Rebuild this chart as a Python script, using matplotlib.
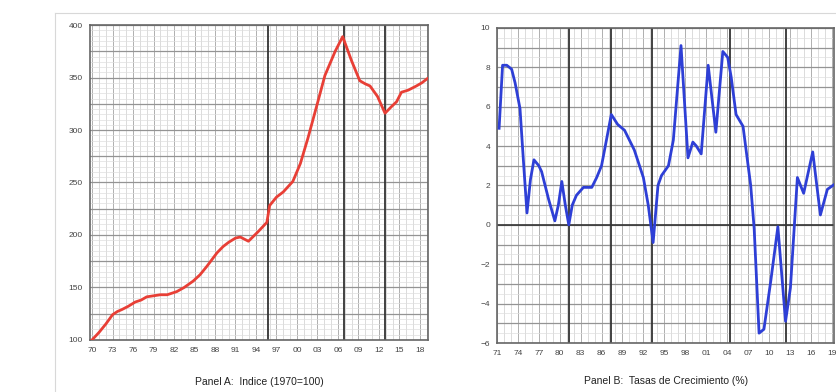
import numpy as np
import matplotlib.pyplot as plt
from matplotlib.lines import Line2D

# Panel A: indice (1970=100)
anios_a = [1970.0, 1971.0, 1972.0, 1973.0, 1973.7, 1974.4, 1975.3, 1976.3, 1977.2, 1978.0,
           1979.0, 1980.0, 1981.0, 1982.4, 1983.5, 1984.8, 1985.8, 1986.8, 1988.3, 1989.2,
           1990.0, 1991.0, 1991.7, 1992.9, 1994.3, 1995.6, 1996.0, 1997.0, 1998.0, 1999.4,
           2000.5, 2001.6, 2002.9, 2004.1, 2005.6, 2006.7, 2008.0, 2009.2, 2010.0, 2010.7,
           2011.8, 2012.9, 2013.8, 2014.6, 2015.3, 2016.3, 2017.5, 2018.3, 2019.1]
indice = [100, 107, 115, 124, 127, 129, 132, 136, 138, 141,
          142, 143, 143, 146, 150, 156, 162, 170, 183, 189,
          193, 197, 198, 194, 203, 212, 228, 236, 241, 251,
          268, 292, 323, 352, 375, 389, 366, 347, 344, 342,
          332, 316, 322, 327, 336, 338, 342, 345, 349]
cortes_a = [1995.8, 2006.9, 2012.9]

# Panel B: tasas de crecimiento (%)
anios_b = [1971.3, 1971.8, 1972.4, 1973.1, 1973.6, 1974.3, 1974.8, 1975.3, 1975.8, 1976.3,
           1977.0, 1977.4, 1978.4, 1979.3, 1979.8, 1980.3, 1980.8, 1981.3, 1981.8, 1982.4,
           1983.4, 1984.6, 1985.3, 1986.0, 1986.7, 1987.4, 1988.3, 1989.3, 1990.0, 1990.7,
           1992.0, 1992.7, 1993.4, 1994.1, 1994.6, 1995.6, 1996.3, 1997.4, 1998.4, 1999.1,
           1999.6, 2000.3, 2001.3, 2002.4, 2003.4, 2004.1, 2004.6, 2005.3, 2006.3, 2007.4,
           2007.9, 2008.6, 2009.3, 2010.3, 2011.3, 2012.4, 2013.1, 2014.1, 2015.0, 2016.3,
           2017.4, 2018.4, 2019.6]
tasa = [4.9, 8.1, 8.1, 7.9, 7.2, 5.9, 3.2, 0.6, 2.3, 3.3,
        3.0, 2.7, 1.3, 0.2, 1.0, 2.2, 1.0, 0.0, 1.0, 1.5,
        1.9, 1.9, 2.4, 3.0, 4.3, 5.6, 5.1, 4.8, 4.3, 3.8,
        2.4, 1.0, -0.9, 2.0, 2.5, 3.0, 4.3, 9.1, 3.4, 4.2,
        4.0, 3.6, 8.1, 4.7, 8.8, 8.5, 7.5, 5.6, 5.0, 2.0,
        -0.2, -5.5, -5.3, -2.8, -0.1, -4.9, -3.2, 2.4, 1.6, 3.7,
        0.5, 1.8, 2.1]
cortes_b = [1981.3, 1987.3, 1993.3, 2004.4, 2012.4]

ticks_a = list(range(1970, 2019, 3))
ticks_b = list(range(1971, 2020, 3))

plt.rcParams['font.family'] = 'Liberation Sans'
fig = plt.figure(figsize=(8.36, 3.92), dpi=100)

# marco exterior
fig.add_artist(Line2D([0.066, 1.0], [0.967, 0.967], color='#d8d8d8', lw=0.8))
fig.add_artist(Line2D([0.066, 0.066], [0.0, 0.967], color='#d8d8d8', lw=0.8))


def papel(ax, x0, x1, y0, y1, paso_y, sub_y, ticks, cortes):
    # cuadricula tipo papel milimetrado
    for x in np.arange(np.ceil(x0), x1, 1.0):
        ax.axvline(x, color='#d6d6d6', lw=0.6, zorder=1)
    for x in ticks:
        ax.axvline(x, color='#b0b0b0', lw=0.7, zorder=1)
    for y in np.arange(y0, y1 + 1e-9, sub_y):
        ax.axhline(y, color='#dedede', lw=0.5, zorder=1)
    for y in np.arange(y0, y1 + 1e-9, paso_y):
        ax.axhline(y, color='#949494', lw=0.9, zorder=1)
    for x in cortes:
        ax.axvline(x, color='#333333', lw=1.3, zorder=2)
    ax.set_xlim(x0, x1)
    ax.set_ylim(y0, y1)
    ax.set_xticks(ticks)
    ax.set_xticklabels(['%02d' % (t % 100) for t in ticks])
    ax.tick_params(length=0, labelsize=6, colors='#444444', pad=5)
    for s in ax.spines.values():
        s.set_color('#666666')
        s.set_linewidth(1.2)


ax1 = fig.add_axes([0.1077, 0.133, 0.4043, 0.803])
papel(ax1, 1969.7, 2019.2, 100, 400, 25, 5, ticks_a, cortes_a)
ax1.set_yticks(range(100, 401, 50))
ax1.plot(anios_a, indice, color='#e83f36', lw=2, zorder=3)
ax1.set_xlabel('Panel A:  Indice (1970=100)', fontsize=7.5, color='#222222', labelpad=16.5)

ax2 = fig.add_axes([0.5945, 0.125, 0.4035, 0.804])
papel(ax2, 1971.3, 2019.4, -6, 10, 1, 0.5, ticks_b, cortes_b)
ax2.axhline(0, color='#333333', lw=1.2, zorder=2)
ax2.set_yticks(range(-6, 11, 2))
ax2.plot(anios_b, tasa, color='#2e3fd6', lw=2, zorder=3)
ax2.set_xlabel('Panel B:  Tasas de Crecimiento (%)', fontsize=7.5, color='#222222', labelpad=14)

plt.savefig('out.png', dpi=100)
